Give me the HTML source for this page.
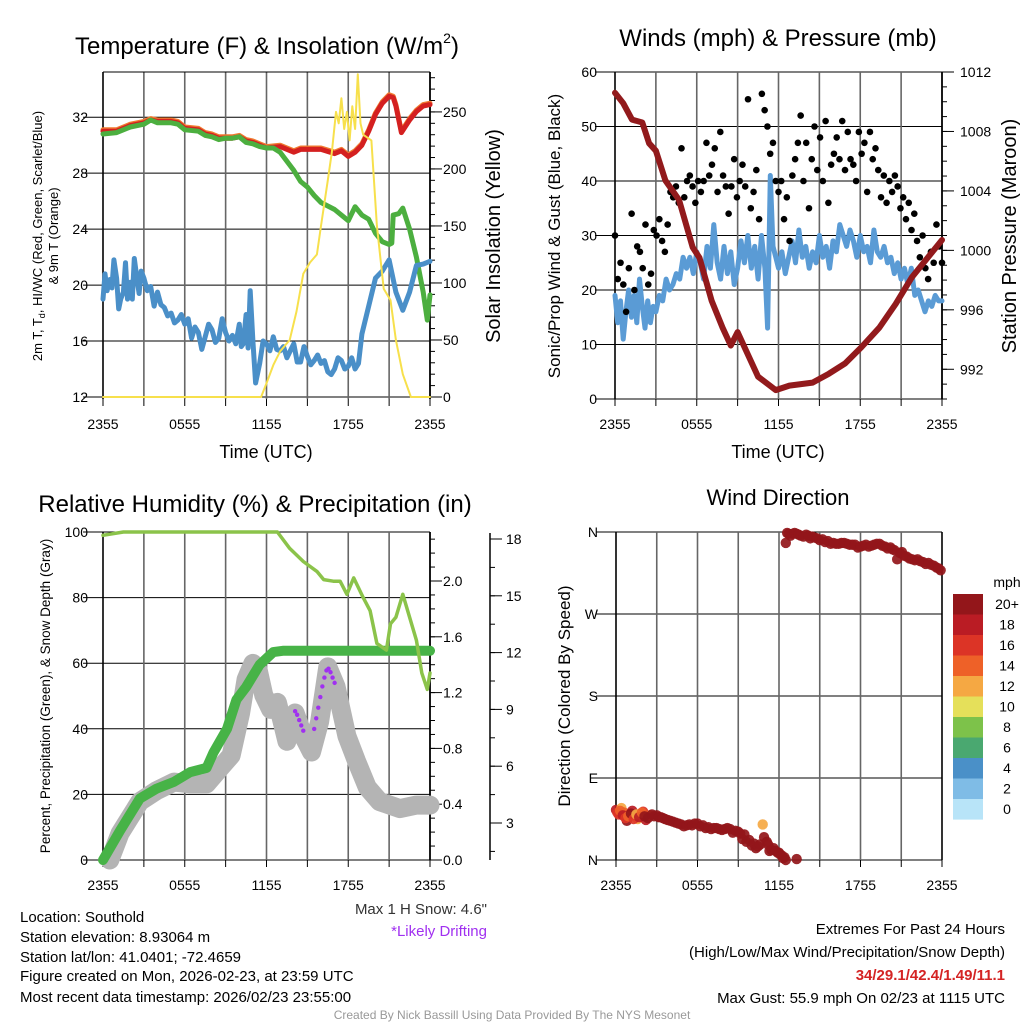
<!DOCTYPE html>
<html><head><meta charset="utf-8"><style>
html,body{margin:0;padding:0;background:#fff;}
svg{display:block;font-family:"Liberation Sans",sans-serif;}
</style></head><body>
<svg id="s" width="1024" height="1024" viewBox="0 0 1024 1024">
<g id="g"></g>
<g font-size="15" fill="#000">
<text x="20" y="922">Location: Southold</text>
<text x="20" y="942">Station elevation: 8.93064 m</text>
<text x="20" y="962">Station lat/lon: 41.0401; -72.4659</text>
<text x="20" y="981">Figure created on Mon, 2026-02-23, at 23:59 UTC</text>
<text x="20" y="1002">Most recent data timestamp: 2026/02/23 23:55:00</text>
<text x="487" y="914" text-anchor="end" fill="#333">Max 1 H Snow: 4.6"</text>
<text x="487" y="936" text-anchor="end" fill="#a030f0">*Likely Drifting</text>
<text x="1005" y="934" text-anchor="end">Extremes For Past 24 Hours</text>
<text x="1005" y="957" text-anchor="end">(High/Low/Max Wind/Precipitation/Snow Depth)</text>
<text x="1005" y="980" text-anchor="end" fill="#d42424" font-weight="bold">34/29.1/42.4/1.49/11.1</text>
<text x="1005" y="1003" text-anchor="end">Max Gust: 55.9 mph On 02/23 at 1115 UTC</text>
<text x="512" y="1019" text-anchor="middle" fill="#999" font-size="12">Created By Nick Bassill Using Data Provided By The NYS Mesonet</text>
</g>
</svg>
<script>
// ---- data ----
const xTickLabels=["2355","0555","1155","1755","2355"];
const tempT=[0,1,2,3,3.5,4,5,5.5,6,7,7.5,8,8.5,9,9.5,10,10.5,11,11.5,12,13,14,14.5,15,16,17,17.5,18,18.5,19,19.5,20,20.5,21,21.3,21.5,21.9,22.5,23,23.5,24];
const tempV=[31.0,31.0,31.4,31.6,31.8,31.7,31.7,31.6,31.2,31.1,30.8,30.7,30.5,30.5,30.5,30.6,30.3,30.2,30.0,29.8,29.9,29.5,29.7,29.7,29.7,29.4,29.6,29.2,29.5,30.0,31.0,32.2,33.0,33.5,33.4,32.8,30.9,31.8,32.4,32.8,32.9];
const hiwcT=[0,1,2,3,3.5,4,5,5.5,6,7,7.5,8,8.5,9,9.5,10,10.5,11,11.5,12,12.5,13,14,14.5,15,15.5,16,17,17.5,18,18.5,19,19.5,20,20.5,21,21.2,21.3,21.7,22,22.5,23,23.5,23.8,24];
const hiwcV=[30.8,30.9,31.3,31.5,31.8,31.6,31.6,31.5,31.1,31.0,30.7,30.6,30.4,30.5,30.5,30.6,30.2,30.1,29.9,29.8,29.8,29.5,28.2,27.4,27.0,26.4,25.9,25.4,25.0,24.6,25.6,25.0,24.7,23.7,23.1,22.9,23.0,25.0,25.1,25.5,24.0,22.0,19.5,17.5,19.3];
const dewT=[0,0.15,0.3,0.5,0.65,0.8,1,1.15,1.3,1.5,1.65,1.8,2,2.15,2.3,2.5,2.65,2.8,3,3.25,3.5,3.75,4,4.25,4.5,4.75,5,5.25,5.5,5.75,6,6.25,6.5,6.75,7,7.25,7.5,7.75,8,8.25,8.5,8.75,9,9.25,9.5,9.75,10,10.15,10.3,10.5,10.65,10.8,11,11.2,11.5,11.75,12,12.25,12.5,12.75,13,13.25,13.5,13.75,14,14.25,14.5,14.75,15,15.25,15.5,15.75,16,16.25,16.5,16.75,17,17.25,17.5,17.75,18,18.25,18.5,18.75,19,19.5,20,20.5,21,21.5,22,22.5,23,23.5,24];
const dewV=[19.0,20.8,19.6,20.4,19.8,21.8,20.5,18.3,19.0,19.5,21.6,19.0,20.2,19.0,21.9,20.4,19.4,21.0,20.5,19.6,19.9,18.5,19.5,18.6,18.4,17.8,18.0,17.3,17.5,17.9,17.2,17.6,16.2,17.0,16.6,15.4,16.3,17.2,16.8,15.9,16.2,17.6,16.6,16.0,16.4,15.8,17.2,15.6,15.8,17.9,15.5,19.6,16.0,13.0,14.4,16.0,15.8,15.3,16.3,15.4,15.3,15.6,14.8,15.3,15.8,14.5,14.5,15.6,14.9,14.3,14.6,15.0,14.4,14.6,13.8,13.6,14.0,14.8,14.6,14.0,14.2,14.8,14.0,14.4,16.5,18.5,20.5,21.0,21.8,19.5,18.2,19.5,21.4,21.5,21.7];
const solT=[0,11.6,12,12.5,13,13.7,14.2,14.7,15.2,15.7,16,16.5,16.8,17.1,17.3,17.5,17.7,17.9,18.1,18.3,18.5,18.7,18.9,19.1,19.7,20.1,20.6,21.1,21.5,22,22.6,24];
const solV=[0,0,12,28,40,50,75,108,118,125,150,190,215,250,240,262,235,250,225,255,235,283,240,230,225,150,95,85,50,20,0,0];
const windT=[0,0.2,0.4,0.6,0.8,1,1.2,1.4,1.6,1.8,2,2.2,2.4,2.6,2.8,3,3.25,3.5,3.75,4,4.25,4.5,4.75,5,5.25,5.5,5.75,6,6.25,6.5,6.75,7,7.25,7.5,7.75,8,8.25,8.5,8.75,9,9.25,9.5,9.75,10,10.25,10.5,10.75,11,11.2,11.4,11.6,11.8,12,12.25,12.5,12.75,13,13.25,13.5,13.75,14,14.25,14.5,14.75,15,15.25,15.5,15.75,16,16.25,16.5,16.75,17,17.25,17.5,17.75,18,18.25,18.5,18.75,19,19.25,19.5,19.75,20,20.25,20.5,20.75,21,21.25,21.5,21.75,22,22.25,22.5,22.75,23,23.25,23.5,23.75,24];
const windV=[19,14,18,11,16,20,15,19,14,22,17,13,18,14,17,16,19,18,22,20,21,23,22,26,24,26,23,27,25,22,28,24,32,25,22,28,23,27,21,24,29,25,30,24,28,22,30,24,13,41,28,26,24,27,23,26,29,25,31,26,28,24,27,25,30,26,28,24,29,27,32,30,28,31,29,26,30,27,28,25,31,27,26,28,25,26,23,25,22,24,21,24,19,20,18,16,18,17,19,18,18];
const gustV=[30,22,25,21,16,24,34,20,28,27,24,32,21,23,31,30,33,29,27,32,38,37,39,36,46,37,40,41,39,36,40,38,40,47,41,43,46,38,49,41,39,34,39,44,37,40,43,39,55,35,38,42,33,56,53,50,45,47,40,38,40,33,37,29,41,44,47,52,40,47,35,44,50,42,48,40,51,36,43,45,48,44,51,42,49,44,43,40,49,45,47,38,49,44,46,42,37,41,36,40,38,41,39,35,37,33,36,31,34,29,26,30,24,22,27,25,32,28,25];
const presT=[0,0.6,1.25,2,2.5,3,3.7,4.7,5.7,6.2,7.1,7.9,8.5,9,9.6,10.5,11.8,12.8,14.5,15.7,16.9,18.1,19.4,20.6,21.8,24];
const presV=[1010.6,1009.9,1008.8,1008.6,1007.2,1006.7,1004.7,1003.4,1000.2,999.5,996.6,994.8,993.6,994.5,993.3,991.5,990.6,990.9,991.1,991.7,992.4,993.5,994.8,996.4,998.2,1000.7];
const rhT=[0,1.5,12.5,12.8,13.7,14.7,15.7,16.2,16.9,17.4,17.9,18.4,19.1,19.6,20.1,20.8,21.1,21.5,22,22.5,23,23.4,23.8,24];
const rhV=[99,100,100,100,95,91,88,85.5,85,85,81,86,80,76,66,64,72,74,81,74,67,57,52,57];
const precT=[0,1.25,2.7,3.9,5.2,6.4,7.6,8.1,9.1,9.8,10.5,11.5,12.5,13.2,24];
const precV=[0,0.21,0.44,0.51,0.56,0.63,0.66,0.77,0.94,1.15,1.24,1.40,1.49,1.50,1.50];
const snowT=[0.5,1.25,2.7,3.9,5.2,6.4,7.6,8.6,9.4,10.1,10.5,11.0,11.4,11.8,12.3,12.8,13.5,14.1,14.7,15.3,15.9,16.5,17.1,17.9,18.6,19.4,20.3,21.8,23.0,24];
const snowV=[0,1.5,3.3,3.9,4.4,4.3,4.3,5.2,5.9,8.3,10.2,11.1,10.7,9.3,8.5,8.9,6.7,8.3,7.0,6.1,7.8,10.9,9.8,7.0,5.6,4.1,3.3,2.9,3.1,3.1];
const driftT=[14.1,14.25,14.4,14.55,14.7,15.5,15.65,15.8,15.95,16.1,16.25,16.4,16.55,16.7,16.85,17.0];
const driftV=[8.4,8.2,7.9,7.6,7.3,7.4,8.0,8.6,9.2,9.8,10.3,10.7,10.8,10.6,10.3,10.0];
const dirT=[0,0.2,0.4,0.6,0.8,1.0,1.2,1.4,1.6,1.8,2.0,2.2,2.5,2.8,3.0,3.3,3.6,4.0,4.4,4.8,5.0,5.4,5.8,6.2,6.6,7.0,7.4,7.8,8.2,8.6,9.0,9.3,9.6,10.0,10.3,10.6,10.8,10.9,11.1,11.3,11.6,11.9,12.1,12.3,12.5,13.3,12.5,12.7,13.0,13.3,13.6,14.0,14.3,14.6,15.0,15.4,15.8,16.2,16.6,17.0,17.4,17.8,18.2,18.6,19.0,19.4,19.8,20.2,20.5,20.7,20.9,21.2,21.6,22.0,22.4,22.8,23.2,23.6,23.9,0.1,0.3,0.5,0.7,0.9,1.1,1.3,1.5,1.7,1.9,2.1,2.35,2.65,3.15,3.45,3.8,4.2,4.6,5.2,5.6,6.0,6.4,6.8,7.2,7.6,8.0,8.4,8.8,9.15,9.45,9.8,10.15,10.45,11.2,11.45,11.75,12.0,12.2,12.4,12.6,12.85,13.15,13.45,13.8,14.15,14.45,14.8,15.2,15.6,16.0,16.4,16.8,17.2,17.6,18.0,18.4,18.8,19.2,19.6,20.0,20.35,21.05,21.4,21.8,22.2,22.6,23.0,23.4,23.75];
const dirV=[55,50,57,52,43,50,54,48,45,51,53,44,49,48,49,47,45,43,41,39,37,39,40,37,35,34,35,33,35,30,31,23,20,16,13,17,39,25,20,10,13,8,6,2,0,1,348,358,358,358,356,357,353,354,351,349,347,347,348,347,346,343,345,344,346,347,344,343,340,330,337,334,331,329,328,325,324,321,318,52,54,49,46,48,51,45,50,47,52,48,46,50,47,46,44,42,40,38,38,40,38,36,35,34,34,34,32,29,28,22,18,15,17,11,10,8,5,3,359,356,359,357,355,356,355,353,352,350,348,347,348,346,346,344,346,345,347,345,342,341,338,333,330,330,327,326,323,320];
const dirSpd=[18,16,12,14,20,16,18,14,12,14,16,18,14,20,20,20,20,20,20,20,20,20,20,20,20,20,20,20,20,20,20,20,20,20,20,20,12,20,20,20,20,20,20,20,20,20,20,20,20,20,20,20,20,20,20,20,20,20,20,20,20,20,20,20,20,20,20,20,20,20,20,20,20,20,20,20,20,20,20,16,14,18,16,14,20,16,12,18,14,20,20,20,20,20,20,20,20,20,20,20,20,20,20,20,20,20,20,20,20,20,20,20,20,20,20,20,20,20,20,20,20,20,20,20,20,20,20,20,20,20,20,20,20,20,20,20,20,20,20,20,20,20,20,20,20,20,20,20,20,20];
const cbLabels=["20+","18","16","14","12","10","8","6","4","2","0"];
const cbColors=["#93161a","#ba1c24","#dc3426","#ee6128","#f5a843","#e5e05a","#7dc24a","#4aa870","#4a90c8","#7fbce6","#b8e4f8"];

// ---- drawing ----
const NS="http://www.w3.org/2000/svg";
const G=document.getElementById('g');
function el(tag,attrs,parent,text){const e=document.createElementNS(NS,tag);for(const k in attrs)e.setAttribute(k,attrs[k]);if(text!==undefined)e.textContent=text;(parent||G).appendChild(e);return e;}
function lin(d0,d1,r0,r1){return v=>r0+(v-d0)/(d1-d0)*(r1-r0);}
function path(xs,ys,fx,fy){return xs.map((t,i)=>(i?'L':'M')+fx(t).toFixed(1)+','+fy(ys[i]).toFixed(1)).join('');}

function frame(L,R,T,B,name){
  const fx=lin(0,24,L,R);
  const g=el('g',{});
  
  
  for(let h=0;h<=24;h+=3){const l=el('line',{x1:fx(h),x2:fx(h),y1:T,y2:B,stroke:(h==0||h==24)?'#000':'#666','stroke-width':1.6},g);
    
    el('line',{x1:fx(h),x2:fx(h),y1:B,y2:B+7,stroke:'#000','stroke-width':1},g);}
  const xl=el('g',{'font-size':14,'text-anchor':'middle'});
  
  xTickLabels.forEach((s,i)=>{el('text',{x:fx(i*6),y:B+30},xl,s);});
  return fx;
}
function hgrid(L,R,fy,vals,labels,name,lx){
  const g=el('g',{'font-size':14,'text-anchor':'end'});
  
  vals.forEach((v,i)=>{el('line',{x1:L-20,x2:R,y1:fy(v),y2:fy(v),stroke:'#000','stroke-width':1},g);
    el('text',{x:lx,y:fy(v)+5},g,labels[i]);});
}
function rightAxis(X,T,B,fy,vals,labels,minor,name,lx){
  const g=el('g',{'font-size':14});
  
  el('line',{x1:X,x2:X,y1:T,y2:B,stroke:'#000','stroke-width':1.5},g);
  minor.forEach(v=>{const y=fy(v);if(y>=T-1&&y<=B+1)el('line',{x1:X,x2:X+5,y1:y,y2:y,stroke:'#000'},g);});
  vals.forEach((v,i)=>{el('line',{x1:X,x2:X+12,y1:fy(v),y2:fy(v),stroke:'#000'},g);el('text',{x:lx,y:fy(v)+5},g,labels[i]);});
}
function text(x,y,s,size,name,rot,anchor){const t=el('text',{x:x,y:y,'font-size':size,'text-anchor':anchor||'middle'},G,s);
  if(rot)t.setAttribute('transform','rotate(-90 '+x+' '+y+')');
  return t;}
function line(d,color,w,name,op){const p=el('path',{d:d,fill:'none',stroke:color,'stroke-width':w,'stroke-linejoin':'round','stroke-linecap':'round',opacity:op||1});
  return p;}

// Panel 1
(function(){
  const L=103,R=430,T=72,B=399;
  const fy=lin(12,35.23,397,72), fs=lin(0,285,397,72);
  hgrid(L,R,fy,[12,16,20,24,28,32],["12","16","20","24","28","32"],'temp-y-axis',88);
  const fx=frame(L,R,T,B,'temp');
  el('line',{x1:L,x2:R,y1:T,y2:T,stroke:'#000'});
  const mn=[];for(let v=0;v<=285;v+=10)mn.push(v);
  rightAxis(R,T,B,fs,[0,50,100,150,200,250],["0","50","100","150","200","250"],mn,'solar-y-axis',443);
  line(path(tempT,tempV.map(v=>v+0.1),fx,fy),'#f07a30',5,'line-9m-temp');
  line(path(tempT,tempV,fx,fy),'#d42020',5,'line-2m-temp');
  line(path(hiwcT,hiwcV,fx,fy),'#4caf3f',5,'line-hiwc');
  line(path(dewT,dewV,fx,fy),'#4a8fc8',5,'line-dewpoint');
  line(path(solT,solV,fx,fs),'#f7e04c',2,'line-insolation');
  const t=text(267,54,'Temperature (F) & Insolation (W/m',24,'temp-title');
  el('tspan',{'font-size':14,dy:-11},t,'2');
  el('tspan',{'font-size':24,dy:11},t,')');
  text(266,458,'Time (UTC)',18,'temp-x-title');
  const yt=text(42,236,'2m T, T',13,'temp-y-title',true);
  el('tspan',{'font-size':9,dy:3},yt,'d');
  el('tspan',{dy:-3},yt,', HI/WC (Red, Green, Scarlet/Blue)');
  text(58,236,'& 9m T (Orange)',13,'temp-y-title-2',true);
  text(500,236,'Solar Insolation (Yellow)',20,'solar-y-title',true);
})();
// Panel 2
(function(){
  const L=615,R=942,T=72,B=399;
  const fy=lin(0,60,399,72), fp=lin(990,1012,399,72);
  hgrid(L,R,fy,[0,10,20,30,40,50,60],["0","10","20","30","40","50","60"],'wind-y-axis',597);
  const fx=frame(L,R,T,B,'wind');
  const mn=[];for(let v=990;v<=1012;v+=1)mn.push(v);
  rightAxis(R,T,B,fp,[992,996,1000,1004,1008,1012],["992","996","1000","1004","1008","1012"],mn,'pressure-y-axis',960);
  line(path(windT,windV,fx,fy),'#5a9bd5',5,'line-wind-speed');
  const gg=el('g',{fill:'#000'});
  gustV.forEach((v,i)=>{const c=el('circle',{cx:fx(i*24/(gustV.length-1)),cy:fy(v),r:3.3},gg);});
  line(path(presT,presV,fx,fp),'#921a1c',6,'line-pressure');
  text(778,46,'Winds (mph) & Pressure (mb)',24,'wind-title');
  text(778,458,'Time (UTC)',18,'wind-x-title');
  text(560,236,'Sonic/Prop Wind & Gust (Blue, Black)',17,'wind-y-title',true);
  text(1016,236,'Station Pressure (Maroon)',20,'pressure-y-title',true);
})();
// Panel 3
(function(){
  const L=103,R=430,T=532,B=860;
  const fy=lin(0,100,860,532), fpr=lin(0,2.0,860,581), fsn=v=>fy(v*5.4);
  hgrid(L,R,fy,[0,20,40,60,80,100],["0","20","40","60","80","100"],'rh-y-axis',88);
  const fx=frame(L,R,T,B,'rh');
  const mn=[];for(let v=0;v<=2.35;v+=0.1)mn.push(v);
  rightAxis(R,T,B,fpr,[0,0.4,0.8,1.2,1.6,2.0],["0.0","0.4","0.8","1.2","1.6","2.0"],mn,'precip-y-axis',443);
  const fsa=lin(18,3,539,823);
  const smn=[];for(let v=0;v<=18;v+=1.5)smn.push(v);
  rightAxis(490,533,860,fsa,[3,6,9,12,15,18],["3","6","9","12","15","18"],smn,'snow-y-axis',506);
  line(path(snowT,snowV,fx,fsn),'#b4b4b4',19,'line-snow-depth');
  line(path(precT,precV,fx,fpr),'#47b347',10,'line-precip');
  line(path(rhT,rhV,fx,fy),'#8bc34a',3.5,'line-rh');
  const dg=el('g',{fill:'#a030f0'});
  driftT.forEach((t,i)=>{const c=el('circle',{cx:fx(t),cy:fsn(driftV[i]),r:2.2},dg);});
  text(255,512,'Relative Humidity (%) & Precipitation (in)',24,'rh-title');
  text(50,696,'Percent, Precipitation (Green), & Snow Depth (Gray)',13.5,'rh-y-title',true);
})();
// Panel 4
(function(){
  const L=616,R=942,T=532,B=860;
  const fy=lin(0,360,860,532);
  hgrid(L,R,fy,[0,90,180,270,360],["N","E","S","W","N"],'dir-y-axis',598);
  const fx=frame(L,R,T,B,'dir');
  const g=el('g',{});
  dirT.forEach((t,i)=>{const sp=(dirSpd[i]===undefined)?20:dirSpd[i];const b=Math.min(10,Math.floor(sp/2));
    const c=el('circle',{cx:fx(t),cy:fy(dirV[i]),r:5.2,fill:cbColors[10-b],opacity:0.92},g);
    });
  const cb=el('g',{'font-size':14,'text-anchor':'middle'});
  cbColors.forEach((c,i)=>{const r=el('rect',{x:953,y:594+i*20.5,width:30,height:20.6,fill:c},cb);
    el('text',{x:1007,y:594+i*20.5+15},cb,cbLabels[i]);});
  el('text',{x:1007,y:587},cb,'mph');
  text(778,505,'Wind Direction',22,'dir-title');
  text(570,696,'Direction (Colored By Speed)',17,'dir-y-title',true);
})();
</script>
</body></html>
